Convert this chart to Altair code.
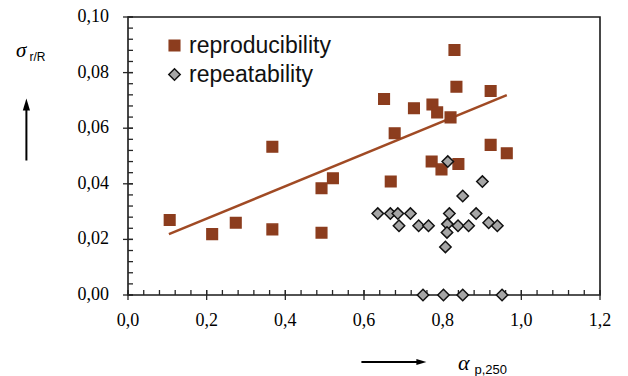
import altair as alt
import pandas as pd

# ---- data ----
repro_x = [0.106, 0.214, 0.274, 0.367, 0.367, 0.492, 0.492, 0.521, 0.651, 0.668, 0.678, 0.727,
           0.772, 0.774, 0.786, 0.797, 0.820, 0.830, 0.835, 0.840, 0.922, 0.922, 0.963]
repro_y = [0.0270, 0.0219, 0.0260, 0.0236, 0.0533, 0.0384, 0.0224, 0.0420, 0.0705, 0.0408, 0.0582, 0.0672,
           0.0480, 0.0685, 0.0657, 0.0452, 0.0639, 0.0881, 0.0749, 0.0471, 0.0734, 0.0540, 0.0510]

repeat_x = [0.813, 0.901, 0.851, 0.635, 0.667, 0.686, 0.718, 0.689, 0.739, 0.764, 0.817, 0.885,
            0.812, 0.839, 0.866, 0.917, 0.939, 0.811, 0.807, 0.750, 0.802, 0.851, 0.951]
repeat_y = [0.0480, 0.0408, 0.0356, 0.0293, 0.0293, 0.0293, 0.0293, 0.0249, 0.0249, 0.0249, 0.0293, 0.0293,
            0.0255, 0.0249, 0.0249, 0.0260, 0.0249, 0.0225, 0.0173, 0.0, 0.0, 0.0, 0.0]

trend_x = [0.104, 0.963]
trend_y = [0.0219, 0.0719]

series_names = ["reproducibility", "repeatability"]
x_ticks = [0.0, 0.2, 0.4, 0.6, 0.8, 1.0, 1.2]
y_ticks = [0.00, 0.02, 0.04, 0.06, 0.08, 0.10]
x_minor = [round(i * 0.04, 2) for i in range(31)]
y_minor = [round(i * 0.004, 3) for i in range(26)]

# ---- styling ----
W, H = 472, 278
BROWN = "#8C3D1E"
LINE = "#A04A24"
GRAY = "#A6A6A6"
AX = "#262626"

xscale = alt.Scale(domain=[0, 1.2], nice=False, zero=False)
yscale = alt.Scale(domain=[0, 0.1], nice=False, zero=False)

pts = pd.DataFrame({
    "x": repro_x + repeat_x,
    "y": repro_y + repeat_y,
    "series": [series_names[0]] * len(repro_x) + [series_names[1]] * len(repeat_x),
})
trend = pd.DataFrame({"x": trend_x, "y": trend_y})
xt = pd.DataFrame({"v": x_ticks, "lab": [f"{v:.1f}".replace(".", ",") for v in x_ticks]})
yt = pd.DataFrame({"v": y_ticks, "lab": [f"{v:.2f}".replace(".", ",") for v in y_ticks]})

legend = alt.Legend(orient="none", legendX=35, legendY=17, title=None, padding=0,
                    rowPadding=5, labelOffset=3, labelFont="Liberation Sans", labelFontSize=23,
                    labelColor="#111111", symbolStrokeWidth=1.5)

# axes drawn as layers (no Vega axes), so the view frame stays visible
x_minor_ticks = alt.Chart(pd.DataFrame({"v": x_minor})).mark_tick(
    orient="vertical", size=5, thickness=1.3, color=AX, opacity=1).encode(
    x=alt.X("v:Q", scale=xscale, axis=None), y=alt.value(H - 2.5))
x_major_ticks = alt.Chart(xt).mark_tick(
    orient="vertical", size=10, thickness=1.3, color=AX, opacity=1).encode(
    x=alt.X("v:Q", scale=xscale, axis=None), y=alt.value(H))
x_labels = alt.Chart(xt).mark_text(
    font="Liberation Serif", fontSize=18, color="#000000", baseline="middle", align="center").encode(
    x=alt.X("v:Q", scale=xscale, axis=None), y=alt.value(H + 26), text="lab:N")

y_minor_ticks = alt.Chart(pd.DataFrame({"v": y_minor})).mark_tick(
    orient="horizontal", size=5, thickness=1.3, color=AX, opacity=1).encode(
    y=alt.Y("v:Q", scale=yscale, axis=None), x=alt.value(2.5))
y_major_ticks = alt.Chart(yt).mark_tick(
    orient="horizontal", size=10, thickness=1.3, color=AX, opacity=1).encode(
    y=alt.Y("v:Q", scale=yscale, axis=None), x=alt.value(0))
y_labels = alt.Chart(yt).mark_text(
    font="Liberation Serif", fontSize=18, color="#000000", baseline="middle", align="right").encode(
    y=alt.Y("v:Q", scale=yscale, axis=None), x=alt.value(-19), text="lab:N")

line = alt.Chart(trend).mark_line(color=LINE, strokeWidth=2.5).encode(
    x=alt.X("x:Q", scale=xscale, axis=None),
    y=alt.Y("y:Q", scale=yscale, axis=None),
)

points = alt.Chart(pts).mark_point(filled=True, opacity=1, strokeWidth=1.5).encode(
    x=alt.X("x:Q", scale=xscale, axis=None),
    y=alt.Y("y:Q", scale=yscale, axis=None),
    fill=alt.Fill("series:N", scale=alt.Scale(domain=series_names, range=[BROWN, GRAY]), legend=legend),
    stroke=alt.Stroke("series:N", scale=alt.Scale(domain=series_names, range=[BROWN, "#111111"]), legend=legend),
    shape=alt.Shape("series:N", scale=alt.Scale(domain=series_names, range=["square", "diamond"]), legend=legend),
    size=alt.Size("series:N", scale=alt.Scale(domain=series_names, range=[112, 130]), legend=legend),
)

def txt(s, x, y, font, size, style="normal"):
    return alt.Chart(pd.DataFrame({"t": [s]})).mark_text(
        font=font, fontSize=size, fontStyle=style, align="left", baseline="alphabetic", color="#000000"
    ).encode(x=alt.value(x), y=alt.value(y), text="t:N")

sigma = txt("σ", -112, 40, "Liberation Serif", 21, "italic")
sigma_sub = txt("r/R", -98.5, 44, "Liberation Sans", 12)
alpha = txt("α", 330, 353, "Liberation Serif", 22, "italic")
alpha_sub = txt("p,250", 346.5, 356.5, "Liberation Sans", 13)

one = pd.DataFrame({"a": [0]})
v_shaft = alt.Chart(one).mark_rule(color="#000000", strokeWidth=2).encode(
    x=alt.value(-101.6), y=alt.value(143.5), y2=alt.value(90))
v_head = alt.Chart(one).mark_point(shape="M0,-1L0.6,1L-0.6,1Z", filled=True, opacity=1,
                                   color="#000000", size=144).encode(
    x=alt.value(-101.6), y=alt.value(87.6))
h_shaft = alt.Chart(one).mark_rule(color="#000000", strokeWidth=2).encode(
    x=alt.value(233.4), x2=alt.value(292), y=alt.value(345))
h_head = alt.Chart(one).mark_point(shape="M1,0L-1,-0.6L-1,0.6Z", filled=True, opacity=1,
                                   color="#000000", size=100).encode(
    x=alt.value(293.4), y=alt.value(345))

chart = alt.layer(
    x_minor_ticks, x_major_ticks, y_minor_ticks, y_major_ticks, line, points,
    x_labels, y_labels, sigma, sigma_sub, alpha, alpha_sub,
    v_shaft, v_head, h_shaft, h_head
).properties(
    width=W, height=H,
    background="white",
    autosize=alt.AutoSizeParams(type="none"),
    padding={"left": 128, "top": 17, "right": 28, "bottom": 81},
).configure_view(
    stroke="#1a1a1a", strokeWidth=1.6
)

chart.save("out.html", embed_options={"renderer": "svg", "actions": False})
